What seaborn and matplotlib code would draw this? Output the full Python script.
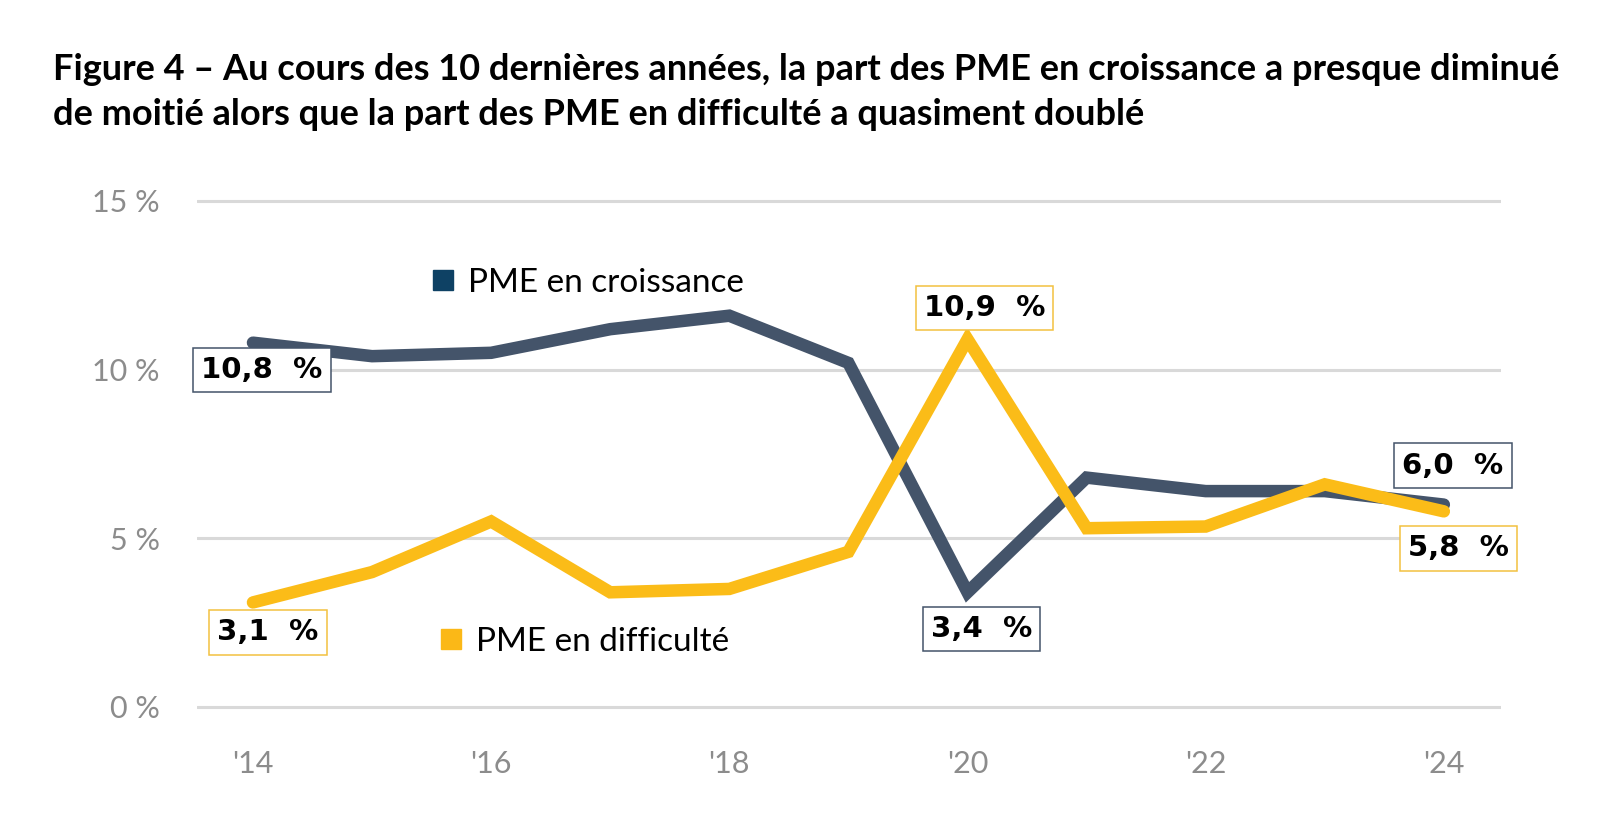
import matplotlib
matplotlib.use("Agg")
import matplotlib.pyplot as plt
from matplotlib.lines import Line2D
import seaborn as sns
import pandas as pd

years = [2014, 2015, 2016, 2017, 2018, 2019, 2020, 2021, 2022, 2023, 2024]
croissance = [10.8, 10.4, 10.5, 11.2, 11.6, 10.2, 3.4, 6.8, 6.4, 6.4, 6.0]
difficulte = [3.1, 4.0, 5.5, 3.4, 3.5, 4.6, 10.9, 5.3, 5.35, 6.6, 5.8]
series_names = ["PME en croissance", "PME en difficulté"]
y_ticks = [0, 5, 10, 15]
y_tick_labels = ["0 %", "5 %", "10 %", "15 %"]
x_ticks = [2014, 2016, 2018, 2020, 2022, 2024]
x_tick_labels = ["'14", "'16", "'18", "'20", "'22", "'24"]
title_lines = [
    "Figure 4 – Au cours des 10 dernières années, la part des PME en croissance a presque diminué",
    "de moitié alors que la part des PME en difficulté a quasiment doublé",
]

sns.set_style("white")
plt.rcParams["font.family"] = ["Lato", "DejaVu Sans"]

C_CRO = "#44546A"
C_DIF = "#FBBC18"
C_CRO_LEG = "#0E4164"
C_DIF_LEG = "#FBB817"
C_CRO_BOX = "#44546A"
C_DIF_BOX = "#F2C140"

W, H = 1600, 825
fig = plt.figure(figsize=(W / 100, H / 100), dpi=100)
ppu = (707 - 201) / 15
top = 201 - 0.3 * ppu
bot = 707 + 0.3 * ppu
ax = fig.add_axes([197 / W, 1 - bot / H, (1501 - 197) / W, (bot - top) / H])

df = pd.DataFrame({
    "year": years * 2,
    "value": croissance + difficulte,
    "serie": [series_names[0]] * len(years) + [series_names[1]] * len(years),
})

for yv in y_ticks:
    ax.axhline(yv, color="#D9D9D9", lw=2.2, zorder=0)

sns.lineplot(data=df, x="year", y="value", hue="serie",
             palette={series_names[0]: C_CRO, series_names[1]: C_DIF},
             lw=9, ax=ax, legend=False, sort=False)
for ln in ax.get_lines()[-2:]:
    ln.set_solid_capstyle("round")
    ln.set_solid_joinstyle("miter")

ax.set_xlim(2013.53, 2024.48)
ax.set_ylim(-0.3, 15.3)
ax.set_xticks(x_ticks)
ax.set_xticklabels(x_tick_labels)
ax.set_yticks(y_ticks)
ax.set_yticklabels(y_tick_labels)
ax.tick_params(axis="y", length=0, pad=27, labelsize=22, labelcolor="#8C8C8C")
ax.tick_params(axis="x", length=0, pad=24, labelsize=22, labelcolor="#8C8C8C")
ax.set_xlabel("")
ax.set_ylabel("")
for s in ax.spines.values():
    s.set_visible(False)

labels = [
    (0, croissance[0], (9, -27), C_CRO_BOX),
    (6, croissance[6], (14, -37), C_CRO_BOX),
    (10, croissance[10], (9, 39), C_CRO_BOX),
    (0, difficulte[0], (15, -30), C_DIF_BOX),
    (6, difficulte[6], (17, 31), C_DIF_BOX),
    (10, difficulte[10], (15, -37), C_DIF_BOX),
]
for i, v, off, ec in labels:
    txt = f"{v:.1f}".replace(".", ",") + "  %"
    ax.annotate(txt, xy=(years[i], v), xytext=off, textcoords="offset pixels",
                ha="center", va="center", fontsize=21, fontweight="bold",
                family="DejaVu Sans", color="black",
                bbox=dict(boxstyle="square,pad=0.28", fc="white", ec=ec, lw=1.1),
                zorder=5)

for name, col, cx, cy in [(series_names[0], C_CRO_LEG, 443, 283),
                          (series_names[1], C_DIF_LEG, 451, 642)]:
    h = Line2D([], [], marker="s", ls="", color=col, markersize=14)
    leg = fig.legend(handles=[h], labels=[name], loc="center left",
                     bbox_to_anchor=((cx - 16.5) / W, 1 - cy / H),
                     bbox_transform=fig.transFigure, frameon=False,
                     handlelength=1, handletextpad=0.25, borderpad=0,
                     borderaxespad=0, fontsize=24)
    for t in leg.get_texts():
        t.set_color("black")

t1 = fig.text(53 / W, 1 - 80 / H, title_lines[0], fontsize=26, fontweight="bold",
              va="baseline", ha="left", color="black")
t2 = fig.text(53 / W, 1 - 125 / H, title_lines[1], fontsize=26, fontweight="bold",
              va="baseline", ha="left", color="black")
fig.canvas.draw()
r = fig.canvas.get_renderer()
w1 = t1.get_window_extent(r).width
fs = 26 * (1559 - 53) / w1
t1.set_fontsize(fs)
t2.set_fontsize(fs)

fig.savefig("out.png", dpi=100, facecolor="white")
